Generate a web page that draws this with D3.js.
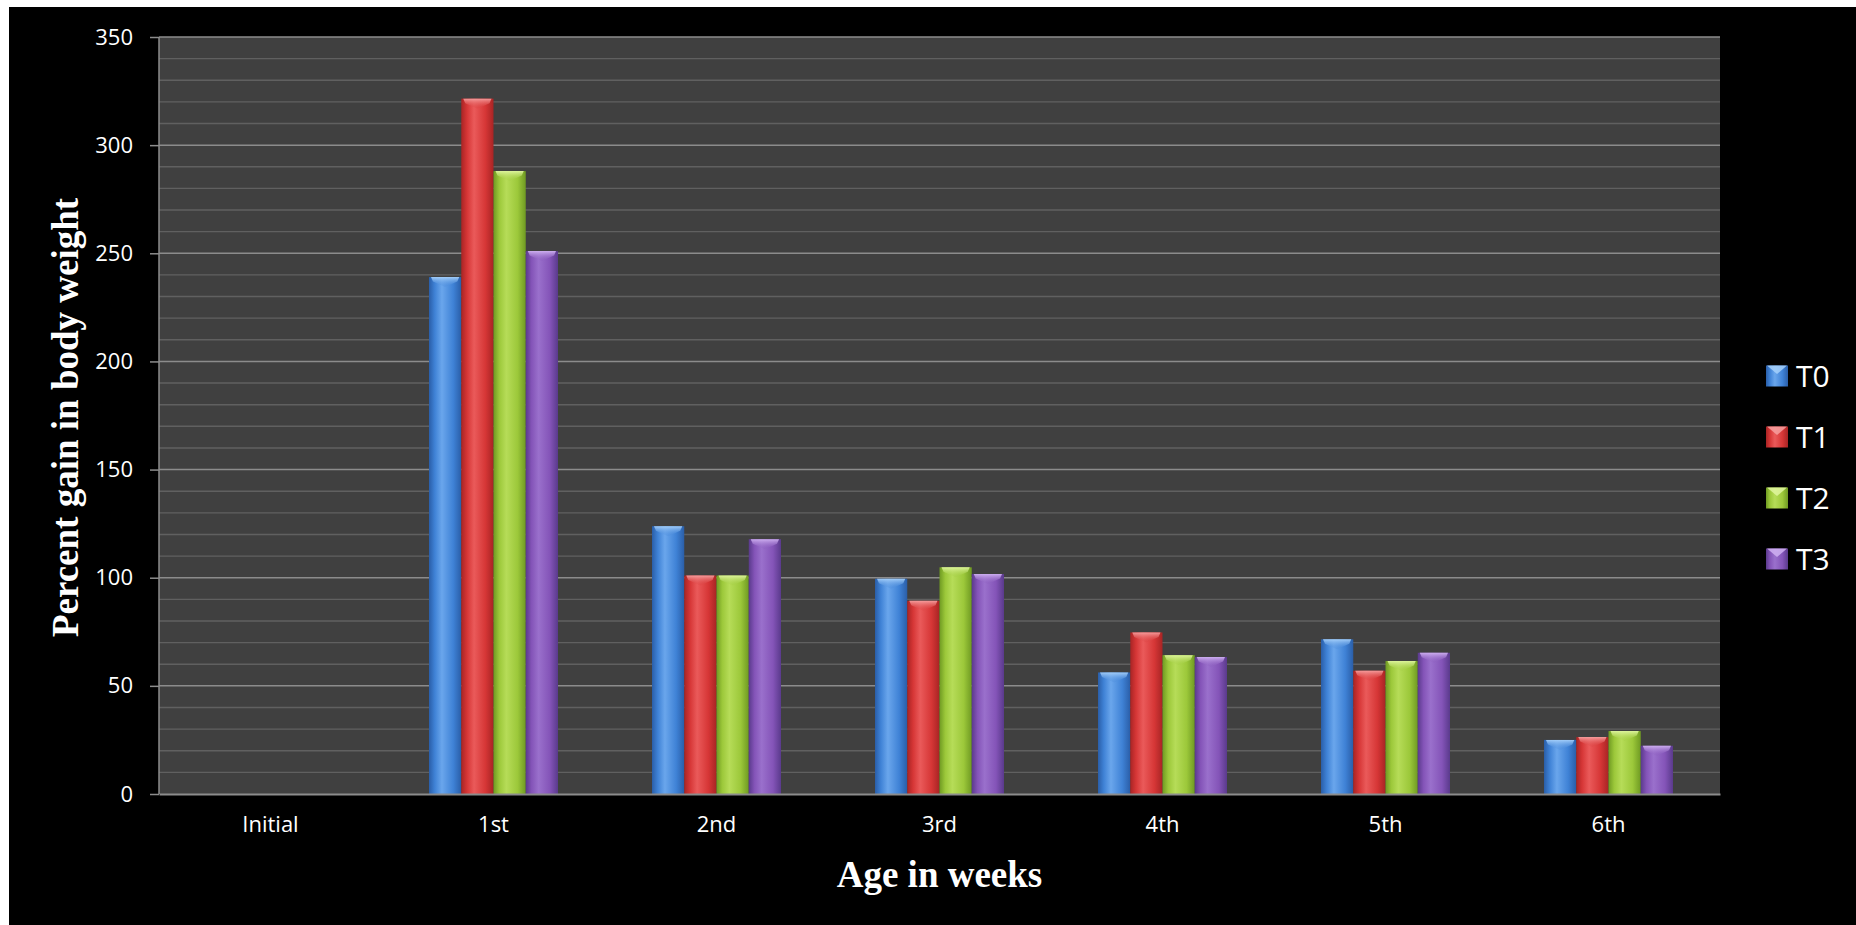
<!DOCTYPE html>
<html>
<head>
<meta charset="utf-8">
<script src="https://cdn.jsdelivr.net/npm/d3@7"></script>
<style>
  html, body { margin: 0; padding: 0; background: #fff; }
  svg { display: block; }
</style>
</head>
<body>
<svg id="chart" width="1856" height="925"></svg>
<script>
const categories = ["Initial", "1st", "2nd", "3rd", "4th", "5th", "6th"];
const seriesNames = ["T0", "T1", "T2", "T3"];
const T0 = [0, 239, 123.8, 99.5, 56.2, 71.5, 25];
const T1 = [0, 321.5, 101, 89.3, 74.7, 57, 26.3];
const T2 = [0, 288, 101, 104.8, 64.2, 61.5, 29.1];
const T3 = [0, 251, 117.8, 101.7, 63.3, 65.3, 22.3];
const yTicks = [0, 50, 100, 150, 200, 250, 300, 350];
const seriesValues = [T0, T1, T2, T3];

const colors = {
  T0: { dark: "#2a5ea8", mid: "#3f82d6", light: "#6aa6ec", cap: "#a6d0fa" },
  T1: { dark: "#a82424", mid: "#d63636", light: "#ea5a5a", cap: "#f6a0a0" },
  T2: { dark: "#6f9a22", mid: "#9cc83a", light: "#b6dc58", cap: "#e0f6a0" },
  T3: { dark: "#5a3a8c", mid: "#8454b8", light: "#9a70cc", cap: "#d0b2f2" }
};

const svg = d3.select("#chart");
svg.append("rect").attr("x", 0).attr("y", 0).attr("width", 1856).attr("height", 925).attr("fill", "#fff");
svg.append("rect").attr("x", 9).attr("y", 7).attr("width", 1847).attr("height", 918).attr("fill", "#000");

const plot = { left: 159, right: 1720, top: 37, bottom: 794 };

const x = d3.scaleBand().domain(categories).range([plot.left, plot.right]).padding(0);
const groupW = 129;
const xs = d3.scaleBand().domain(seriesNames)
  .range([(x.bandwidth() - groupW) / 2, (x.bandwidth() + groupW) / 2]).padding(0);
const y = d3.scaleLinear().domain([0, 350]).range([plot.bottom, plot.top]);

const defs = svg.append("defs");
seriesNames.forEach(s => {
  const c = colors[s];
  const g = defs.append("linearGradient").attr("id", "grad-" + s)
    .attr("x1", "0%").attr("x2", "100%").attr("y1", "0%").attr("y2", "0%");
  g.append("stop").attr("offset", "0%").attr("stop-color", c.dark);
  g.append("stop").attr("offset", "18%").attr("stop-color", c.mid);
  g.append("stop").attr("offset", "40%").attr("stop-color", c.light);
  g.append("stop").attr("offset", "75%").attr("stop-color", c.mid);
  g.append("stop").attr("offset", "100%").attr("stop-color", c.dark);
  const cg = defs.append("linearGradient").attr("id", "cap-" + s)
    .attr("x1", "0%").attr("x2", "0%").attr("y1", "0%").attr("y2", "100%");
  cg.append("stop").attr("offset", "0%").attr("stop-color", c.cap);
  cg.append("stop").attr("offset", "100%").attr("stop-color", c.mid).attr("stop-opacity", 0.2);
});

svg.append("rect").attr("x", plot.left).attr("y", plot.top)
  .attr("width", plot.right - plot.left).attr("height", plot.bottom - plot.top)
  .attr("fill", "#404040");

const minor = d3.range(10, 350, 10).filter(v => v % 50 !== 0);
svg.append("g").selectAll("line").data(minor).join("line")
  .attr("x1", plot.left).attr("x2", plot.right)
  .attr("y1", d => y(d)).attr("y2", d => y(d))
  .attr("stroke", "#606060").attr("stroke-width", 1.4);

svg.append("g").selectAll("line").data(yTicks.filter(v => v > 0)).join("line")
  .attr("x1", plot.left).attr("x2", plot.right)
  .attr("y1", d => y(d)).attr("y2", d => y(d))
  .attr("stroke", "#8c8c8c").attr("stroke-width", 1.5);

const barData = [];
categories.forEach((cat, i) => {
  seriesNames.forEach((s, j) => {
    barData.push({ cat, s, v: seriesValues[j][i] });
  });
});
const bars = svg.append("g").selectAll("g").data(barData.filter(d => d.v > 0)).join("g");
bars.append("rect")
  .attr("x", d => x(d.cat) + xs(d.s))
  .attr("y", d => y(d.v))
  .attr("width", xs.bandwidth())
  .attr("height", d => y(0) - y(d.v))
  .attr("fill", d => "url(#grad-" + d.s + ")");
bars.append("path")
  .attr("d", d => {
    const x0 = x(d.cat) + xs(d.s), w = xs.bandwidth(), t = y(d.v);
    const h = 10;
    return `M${x0 + 2},${t} L${x0 + w - 2},${t} L${x0 + w - 4},${t + h * 0.45} L${x0 + w / 2},${t + h} L${x0 + 4},${t + h * 0.45} Z`;
  })
  .attr("fill", d => "url(#cap-" + d.s + ")")
  .attr("opacity", 0.95);

const yAxis = d3.axisLeft(y).tickValues(yTicks).tickSize(9).tickPadding(17).tickFormat(d3.format("d"));
const yg = svg.append("g").attr("transform", `translate(${plot.left},0)`).call(yAxis);
yg.select(".domain").attr("stroke", "#8c8c8c").attr("stroke-width", 1.5).attr("d", `M0,${plot.top}V${plot.bottom}`);
yg.selectAll(".tick line").attr("stroke", "#8c8c8c").attr("stroke-width", 1.5);
yg.selectAll(".tick text").attr("fill", "#fff")
  .style("font-family", "'Open Sans', sans-serif").style("font-size", "22px");

const xAxis = d3.axisBottom(x).tickSize(0).tickPadding(22);
const xg = svg.append("g").attr("transform", `translate(0,${plot.bottom})`).call(xAxis);
xg.select(".domain").attr("stroke", "#8c8c8c").attr("stroke-width", 2);
xg.selectAll(".tick text").attr("fill", "#fff")
  .style("font-family", "'Open Sans', sans-serif").style("font-size", "22px");

svg.append("text")
  .attr("transform", `translate(78,${(plot.top + plot.bottom) / 2 + 2}) rotate(-90)`)
  .attr("text-anchor", "middle")
  .attr("fill", "#fff")
  .style("font-family", "'Liberation Serif', 'Times New Roman', serif")
  .style("font-weight", "bold").style("font-size", "37px")
  .text("Percent gain in body weight");

svg.append("text")
  .attr("x", (plot.left + plot.right) / 2).attr("y", 887)
  .attr("text-anchor", "middle")
  .attr("fill", "#fff")
  .style("font-family", "'Liberation Serif', 'Times New Roman', serif")
  .style("font-weight", "bold").style("font-size", "37px")
  .text("Age in weeks");

const legend = svg.append("g").selectAll("g").data(seriesNames).join("g")
  .attr("transform", (d, i) => `translate(1766,${376 + i * 61})`);
legend.append("rect").attr("x", 0).attr("y", -10.5).attr("width", 22).attr("height", 21)
  .attr("fill", d => "url(#grad-" + d + ")");
legend.append("path")
  .attr("d", "M1,-10.5 L21,-10.5 L11,-2 Z")
  .attr("fill", d => colors[d].cap).attr("opacity", 0.85);
legend.append("text").attr("x", 30).attr("y", 0).attr("dy", "0.35em")
  .attr("fill", "#fff")
  .style("font-family", "'Open Sans', sans-serif").style("font-size", "30px")
  .text(d => d);
</script>
</body>
</html>
